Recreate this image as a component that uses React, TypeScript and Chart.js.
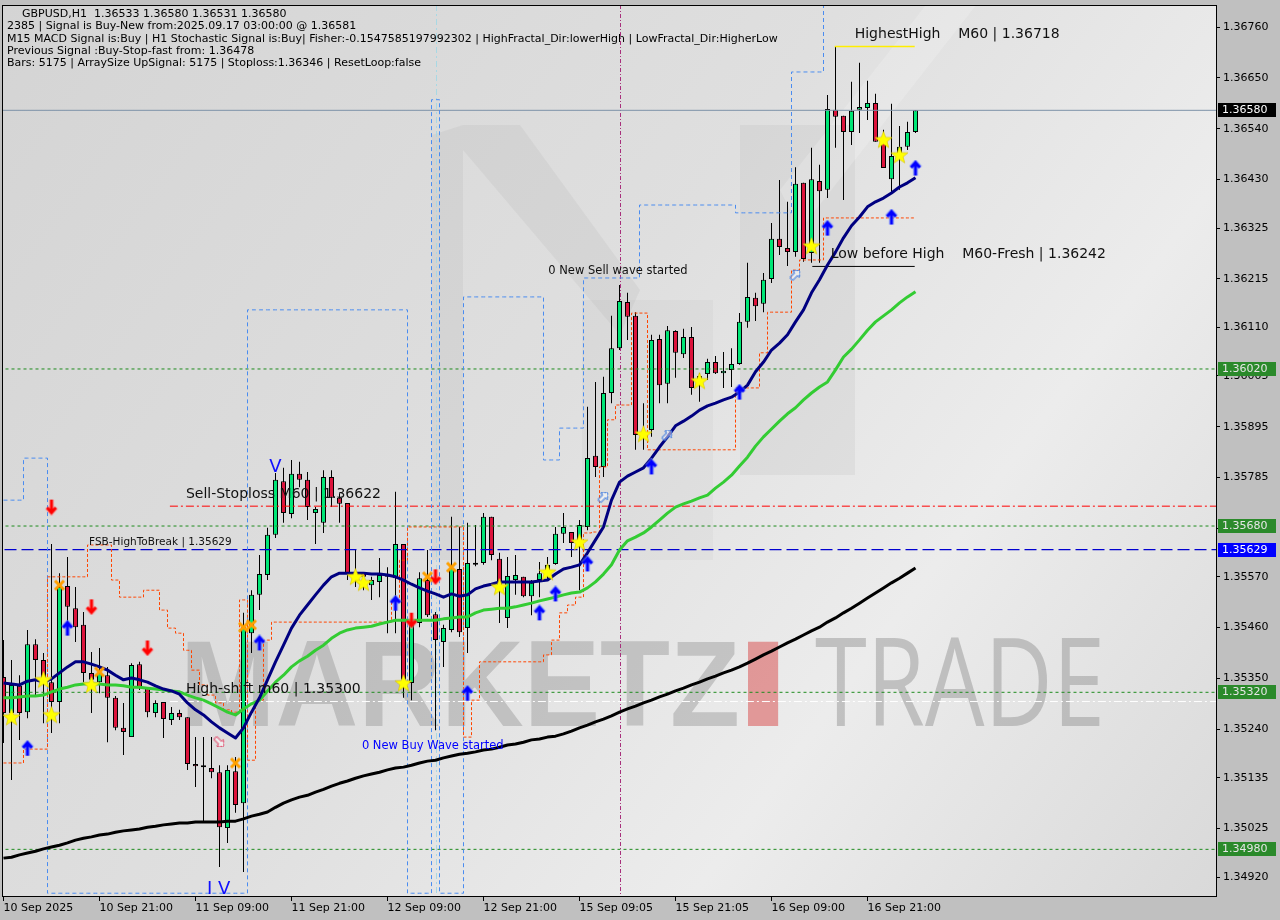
import React, { useEffect, useRef } from 'react';
import { Chart, registerables } from 'chart.js';

Chart.register(...registerables);

const FONT = '"DejaVu Sans", "Noto Sans", sans-serif';

// ---------------- DATA ----------------
const candleOpen = [
  1.35353, 1.35275, 1.35334, 1.35277, 1.35424, 1.3539, 1.35342, 1.35299, 1.3555, 1.35502,
  1.35466, 1.35362, 1.35342, 1.35357, 1.35308, 1.35243, 1.35223, 1.35381, 1.35329, 1.35275,
  1.35299, 1.3526, 1.35275, 1.35266, 1.35165, 1.35162, 1.35156, 1.35147, 1.35026, 1.35149,
  1.3508, 1.35448, 1.35531, 1.35574, 1.35661, 1.35777, 1.35706, 1.35793, 1.3578, 1.35708,
  1.35687, 1.35786, 1.35741, 1.3573, 1.3558, 1.3558, 1.35552, 1.35559, 1.3557, 1.35567,
  1.35641, 1.3534, 1.3547, 1.35563, 1.35489, 1.35429, 1.35455, 1.35587, 1.35459, 1.356,
  1.356, 1.357, 1.35609, 1.35481, 1.35563, 1.3557, 1.35528, 1.35563, 1.35578, 1.35598,
  1.35663, 1.35667, 1.35635, 1.35678, 1.35832, 1.35808, 1.35968, 1.36065, 1.36165, 1.36135,
  1.35881, 1.35888, 1.36085, 1.35988, 1.36102, 1.36052, 1.36089, 1.35992, 1.36009, 1.36035,
  1.36011, 1.36018, 1.36031, 1.36122, 1.36174, 1.36161, 1.36215, 1.36302, 1.36282, 1.36273,
  1.36423, 1.36271, 1.36427, 1.36408, 1.36581, 1.36568, 1.36533, 1.36581, 1.36585, 1.36596,
  1.36512, 1.36431, 1.36483, 1.36501, 1.36533,
];
const candleHigh = [
  1.35433, 1.3539, 1.35357, 1.35455, 1.35435, 1.35405, 1.35641, 1.35578, 1.35613, 1.35548,
  1.35494, 1.35407, 1.35416, 1.35375, 1.35312, 1.35297, 1.35383, 1.35386, 1.35329, 1.35303,
  1.35299, 1.35288, 1.35282, 1.35266, 1.35223, 1.35223, 1.35223, 1.35162, 1.35162, 1.3518,
  1.35492, 1.35541, 1.35617, 1.35676, 1.35795, 1.35806, 1.35823, 1.35819, 1.35797, 1.35721,
  1.35801, 1.35801, 1.35751, 1.3573, 1.35628, 1.3558, 1.3557, 1.35611, 1.35591, 1.35754,
  1.35641, 1.35476, 1.3558, 1.35628, 1.35494, 1.35466, 1.357, 1.35678, 1.35687, 1.35682,
  1.35708, 1.357, 1.35622, 1.35613, 1.35617, 1.3557, 1.35563, 1.35602, 1.35613, 1.35678,
  1.35708, 1.35667, 1.35693, 1.35938, 1.35992, 1.36003, 1.36135, 1.36202, 1.36185, 1.36143,
  1.35946, 1.36094, 1.36094, 1.36113, 1.36104, 1.36107, 1.36111, 1.36011, 1.36042, 1.36048,
  1.36057, 1.36065, 1.36141, 1.3625, 1.36185, 1.36228, 1.36336, 1.36429, 1.36382, 1.36457,
  1.36423, 1.36499, 1.36462, 1.36613, 1.36718, 1.36568, 1.36642, 1.36683, 1.36644, 1.36616,
  1.36538, 1.36594, 1.36546, 1.36555, 1.3658,
];
const candleLow = [
  1.3521, 1.3513, 1.35217, 1.35264, 1.3531, 1.35253, 1.35232, 1.35253, 1.35472, 1.35429,
  1.35342, 1.35275, 1.35318, 1.35212, 1.35238, 1.35184, 1.35223, 1.35325, 1.35266, 1.35266,
  1.35221, 1.35249, 1.3526, 1.35152, 1.35115, 1.35037, 1.35134, 1.34942, 1.34994, 1.35059,
  1.34931, 1.35405, 1.35498, 1.35563, 1.35654, 1.35687, 1.35697, 1.35764, 1.35693, 1.35641,
  1.35665, 1.35721, 1.35687, 1.35563, 1.35548, 1.35541, 1.3552, 1.35526, 1.35448, 1.35448,
  1.35308, 1.35303, 1.35461, 1.35483, 1.35238, 1.35375, 1.3545, 1.3544, 1.35405, 1.35593,
  1.35596, 1.35606, 1.3547, 1.35459, 1.35531, 1.35526, 1.35487, 1.35526, 1.35563, 1.35596,
  1.35643, 1.35613, 1.35541, 1.35671, 1.35786, 1.35786, 1.35946, 1.36061, 1.36083, 1.35845,
  1.35845, 1.35873, 1.35946, 1.35946, 1.36001, 1.36044, 1.35964, 1.35949, 1.35996, 1.36009,
  1.35979, 1.35981, 1.36029, 1.36109, 1.36124, 1.36143, 1.36206, 1.36267, 1.36243, 1.36263,
  1.36252, 1.3625, 1.3625, 1.3639, 1.36499, 1.36386, 1.36505, 1.36531, 1.36559, 1.36512,
  1.36455, 1.36401, 1.36408, 1.36494, 1.36531,
];
const candleClose = [
  1.35275, 1.35336, 1.35275, 1.35424, 1.3539, 1.3534, 1.35299, 1.35548, 1.35505, 1.35461,
  1.35362, 1.35347, 1.35362, 1.35308, 1.35243, 1.35234, 1.35379, 1.35329, 1.35277, 1.35297,
  1.35262, 1.35275, 1.35266, 1.35165, 1.3516, 1.35158, 1.35147, 1.35028, 1.35152, 1.35076,
  1.35461, 1.35531, 1.35576, 1.35661, 1.3578, 1.35708, 1.35793, 1.3578, 1.35721, 1.35717,
  1.35786, 1.35741, 1.35728, 1.35578, 1.35574, 1.3557, 1.35563, 1.35574, 1.35576, 1.35641,
  1.35347, 1.35466, 1.35567, 1.35487, 1.35433, 1.35459, 1.35589, 1.3545, 1.356, 1.35596,
  1.357, 1.35617, 1.35548, 1.35572, 1.35574, 1.35528, 1.35557, 1.35578, 1.35596, 1.35663,
  1.35678, 1.35643, 1.35682, 1.35827, 1.35808, 1.35968, 1.36065, 1.36167, 1.36133, 1.35877,
  1.35875, 1.36083, 1.35985, 1.36104, 1.36055, 1.36089, 1.35979, 1.36005, 1.36035, 1.36011,
  1.36016, 1.36031, 1.36122, 1.36176, 1.36156, 1.36213, 1.36302, 1.36284, 1.36273, 1.36421,
  1.36258, 1.36431, 1.36405, 1.36583, 1.36566, 1.36533, 1.36579, 1.36587, 1.36596, 1.36512,
  1.36455, 1.36481, 1.36501, 1.36533, 1.3658,
];

const maFast = [
  1.3534, 1.35338, 1.35336, 1.35344, 1.35347, 1.35342, 1.35349, 1.35362, 1.35375, 1.35386,
  1.35386, 1.35381, 1.35375, 1.35368, 1.35357, 1.35347, 1.35351, 1.35347, 1.35342, 1.35334,
  1.35327, 1.35323, 1.35316, 1.35297, 1.35282, 1.35271, 1.35256, 1.35243, 1.35232, 1.35221,
  1.35243, 1.35277, 1.35308, 1.35347, 1.35386, 1.35422, 1.35459, 1.35487, 1.35509, 1.35531,
  1.35552, 1.3557, 1.35578, 1.35578, 1.35578, 1.35578, 1.35576, 1.35576, 1.35574, 1.3557,
  1.35563, 1.35554, 1.35546, 1.35539, 1.35533, 1.35526, 1.35533, 1.35528, 1.35531, 1.35544,
  1.3555, 1.35554, 1.35559, 1.35559, 1.35559, 1.35559, 1.35559, 1.35561, 1.35563, 1.35576,
  1.35587, 1.35591, 1.35596, 1.35622, 1.3565, 1.35678, 1.35736, 1.35775, 1.35788, 1.35797,
  1.35806, 1.35827, 1.35851, 1.35873, 1.35897, 1.35907, 1.35918, 1.35931, 1.3594, 1.35946,
  1.35953, 1.35959, 1.3597, 1.35985, 1.36014, 1.36035, 1.36061, 1.36076, 1.36094, 1.36122,
  1.36148, 1.36185, 1.36213, 1.36245, 1.36273, 1.36304, 1.3633, 1.36349, 1.36371, 1.36382,
  1.3639, 1.36401, 1.36414, 1.36423, 1.36434,
];
const maMid = [
  1.35308, 1.35308, 1.3531, 1.35312, 1.35312, 1.35314, 1.35321, 1.35327, 1.35331, 1.35336,
  1.35338, 1.35338, 1.35338, 1.35336, 1.35336, 1.35334, 1.35331, 1.35331, 1.35329, 1.35327,
  1.35325, 1.35323, 1.35321, 1.35314, 1.35308, 1.35303, 1.35295, 1.35286, 1.35277, 1.35271,
  1.35284, 1.35295, 1.35303, 1.35323, 1.35342, 1.35357, 1.35375, 1.35388, 1.35398, 1.35411,
  1.35422, 1.35437, 1.35448, 1.35455, 1.35459, 1.35461, 1.35463, 1.35468, 1.35472, 1.35476,
  1.35476, 1.35476, 1.35476, 1.35476, 1.35476, 1.35479, 1.35481, 1.35483, 1.35483, 1.35492,
  1.35498, 1.355, 1.35502, 1.35502, 1.35505, 1.35509, 1.35513, 1.35518, 1.35522, 1.35526,
  1.35531, 1.35535, 1.35537, 1.35546, 1.35559, 1.35576, 1.35596, 1.35628, 1.35648, 1.35656,
  1.35665, 1.35678, 1.35693, 1.35708, 1.35721, 1.35728, 1.35734, 1.35741, 1.35747, 1.35762,
  1.35775, 1.3579, 1.3581, 1.35829, 1.35853, 1.35873, 1.3589, 1.35907, 1.35923, 1.35936,
  1.35953, 1.35968, 1.35981, 1.35992, 1.36018, 1.36046, 1.36063, 1.36083, 1.36104, 1.36122,
  1.36135, 1.36148, 1.36163, 1.36176, 1.36187,
];
const maSlow = [
  1.34961, 1.34963, 1.34968, 1.34972, 1.34976, 1.34981, 1.34985, 1.34989, 1.34994, 1.35,
  1.35004, 1.35007, 1.35011, 1.35013, 1.35017, 1.3502, 1.35022, 1.35024, 1.35028, 1.3503,
  1.35033, 1.35035, 1.35037, 1.35037, 1.35039, 1.35039, 1.35039, 1.35039, 1.35041, 1.35041,
  1.35046, 1.35052, 1.35056, 1.35061, 1.35071, 1.3508, 1.35087, 1.35093, 1.35097, 1.35104,
  1.3511, 1.35117, 1.35123, 1.35128, 1.35134, 1.35139, 1.35143, 1.35147, 1.35152, 1.35156,
  1.35158, 1.35162, 1.35167, 1.35171, 1.35173, 1.35178, 1.35182, 1.35186, 1.35188, 1.35191,
  1.35195, 1.35197, 1.35201, 1.35206, 1.35208, 1.35212, 1.35217, 1.35219, 1.35223, 1.35225,
  1.3523, 1.35236, 1.35243, 1.35249, 1.35256, 1.35262, 1.35269, 1.35277, 1.35284, 1.3529,
  1.35297, 1.35303, 1.3531, 1.35316, 1.35323, 1.35329, 1.35336, 1.35342, 1.35349, 1.35355,
  1.35362, 1.35368, 1.35375, 1.35383, 1.35392, 1.35401, 1.35409, 1.35418, 1.35427, 1.35435,
  1.35444, 1.35453, 1.35461, 1.35472, 1.35481, 1.35492, 1.35502, 1.35513, 1.35524, 1.35535,
  1.35546, 1.35557, 1.35567, 1.35578, 1.35589,
];
const trailStop = [
  1.35167, 1.35167, 1.35167, 1.35197, 1.35197, 1.35197, 1.3557, 1.3557, 1.3557, 1.3557,
  1.3557, 1.35639, 1.35639, 1.35639, 1.35563, 1.35526, 1.35526, 1.35526, 1.35541, 1.35541,
  1.35498, 1.35459, 1.35448, 1.35411, 1.35368, 1.35336, 1.35314, 1.35297, 1.35282, 1.35277,
  1.3552, 1.35173, 1.35303, 1.35433, 1.35472, 1.35472, 1.35472, 1.35472, 1.35472, 1.35472,
  1.35472, 1.35472, 1.35472, 1.35472, 1.35472, 1.35472, 1.35472, 1.35472, 1.35472, 1.3552,
  1.35606, 1.35678, 1.35678, 1.35678, 1.35678, 1.35678, 1.35678, 1.35678, 1.35223, 1.35303,
  1.35386, 1.35386, 1.35386, 1.35386, 1.35386, 1.35386, 1.35386, 1.35386, 1.35401, 1.35433,
  1.35492, 1.35509, 1.35526, 1.35665, 1.35667, 1.35808, 1.3591, 1.35942, 1.35942, 1.36141,
  1.36141, 1.35845, 1.35845, 1.35845, 1.35845, 1.35845, 1.35845, 1.35845, 1.35845, 1.35845,
  1.35845, 1.35845, 1.35979, 1.35979, 1.35979, 1.36055, 1.36143, 1.36143, 1.36143, 1.36234,
  1.36256, 1.36256, 1.36256, 1.36347, 1.36347, 1.36347, 1.36347, 1.36347, 1.36347, 1.36347,
  1.36347, 1.36347, 1.36347, 1.36347, 1.36347,
];
const upperBand = [
  1.35736, 1.35736, 1.35736, 1.35827, 1.35827, 1.35827, 1.34885, 1.34885, 1.34885, 1.34885,
  1.34885, 1.34885, 1.34885, 1.34885, 1.34885, 1.34885, 1.34885, 1.34885, 1.34885, 1.34885,
  1.34885, 1.34885, 1.34885, 1.34885, 1.34885, 1.34885, 1.34885, 1.34885, 1.34885, 1.34885,
  1.34885, 1.36148, 1.36148, 1.36148, 1.36148, 1.36148, 1.36148, 1.36148, 1.36148, 1.36148,
  1.36148, 1.36148, 1.36148, 1.36148, 1.36148, 1.36148, 1.36148, 1.36148, 1.36148, 1.36148,
  1.36148, 1.34885, 1.34885, 1.34885, 1.36603, 1.34885, 1.34885, 1.34885, 1.36176, 1.36176,
  1.36176, 1.36176, 1.36176, 1.36176, 1.36176, 1.36176, 1.36176, 1.36176, 1.35823, 1.35823,
  1.35892, 1.35892, 1.35892, 1.36217, 1.36217, 1.36217, 1.36217, 1.36217, 1.36217, 1.36217,
  1.36375, 1.36375, 1.36375, 1.36375, 1.36375, 1.36375, 1.36375, 1.36375, 1.36375, 1.36375,
  1.36375, 1.36375, 1.36358, 1.36358, 1.36358, 1.36358, 1.36358, 1.36358, 1.36358, 1.36663,
  1.36663, 1.36663, 1.36663, 1.369, 1.369, 1.369, 1.369, 1.369, 1.369, 1.369,
  1.369, 1.369, 1.369, 1.369, 1.369,
];

const xTickIndex = [0, 12, 24, 36, 48, 60, 72, 84, 96, 108];
const xTickLabels = [
  '10 Sep 2025', '10 Sep 21:00', '11 Sep 09:00', '11 Sep 21:00', '12 Sep 09:00',
  '12 Sep 21:00', '15 Sep 09:05', '15 Sep 21:05', '16 Sep 09:00', '16 Sep 21:00',
];
const yTickValues = [
  1.3676, 1.3665, 1.3654, 1.3643, 1.36325, 1.36215, 1.3611, 1.36005, 1.35895, 1.35785,
  1.35675, 1.3557, 1.3546, 1.3535, 1.3524, 1.35135, 1.35025, 1.3492,
];
const yMin = 1.34879;
const yMax = 1.36808;

const currentPrice = 1.3658;
const greenLevels = [1.3602, 1.3568, 1.3532, 1.3498];
const fsbHighToBreak = 1.35629;
const sellStoplossLevel = 1.35723;
const highShiftLevel = 1.353;
const levelStartIdx = 20.8;
const highestHigh = 1.36718;
const highestHighSpan = [103.9, 113.9];
const lowBeforeHigh = 1.36242;
const lowBeforeHighSpan = [101.1, 113.9];

const starIdx = [1, 5, 6, 11, 44, 45, 50, 62, 68, 72, 80, 87, 101, 110, 112];
const starPrice = [1.35266, 1.35347, 1.35271, 1.35336, 1.3557, 1.35557, 1.3534, 1.35548, 1.3558, 1.35645, 1.35879, 1.35994, 1.36286, 1.36516, 1.36483];
const crossIdx = [7, 12, 29, 30, 31, 53, 56];
const crossPrice = [1.35552, 1.35364, 1.35167, 1.35461, 1.35466, 1.3557, 1.35591];
const buyArrowIdx = [3, 8, 32, 49, 58, 67, 69, 73, 81, 92, 103, 111, 114];
const buyArrowPrice = [1.35199, 1.35459, 1.35427, 1.35513, 1.35318, 1.35492, 1.35533, 1.35598, 1.35808, 1.3597, 1.36325, 1.36349, 1.36455];
const sellArrowIdx = [6, 11, 18, 51, 54];
const sellArrowPrice = [1.35721, 1.35505, 1.35416, 1.35476, 1.3557];
const hollowUpIdx = [75, 83, 99];
const hollowUpPrice = [1.35743, 1.35877, 1.36224];
const hollowDownIdx = [27];
const hollowDownPrice = [1.35212];

const separatorIdx = [77];
const waveLineIdx = [54];

const noteText = [
  'HighestHigh    M60 | 1.36718',
  'Low before High    M60-Fresh | 1.36242',
  '0 New Sell wave started',
  'Sell-Stoploss M60 | 1.36622',
  'FSB-HighToBreak | 1.35629',
  'High-shift m60 | 1.35300',
  '0 New Buy Wave started',
];
const noteIdx = [106.4, 103.4, 68.1, 22.8, 10.7, 22.8, 44.8];
const notePrice = [1.36745, 1.36269, 1.36232, 1.35749, 1.35645, 1.35327, 1.35204];

const glyphText = ['V', 'I V'];
const glyphIdx = [34, 26.9];
const glyphPrice = [1.35806, 1.34894];

const infoLines = [
  'GBPUSD,H1  1.36533 1.36580 1.36531 1.36580',
  '2385 | Signal is Buy-New from:2025.09.17 03:00:00 @ 1.36581',
  'M15 MACD Signal is:Buy | H1 Stochastic Signal is:Buy| Fisher:-0.1547585197992302 | HighFractal_Dir:lowerHigh | LowFractal_Dir:HigherLow',
  'Previous Signal :Buy-Stop-fast from: 1.36478',
  'Bars: 5175 | ArraySize UpSignal: 5175 | Stoploss:1.36346 | ResetLoop:false',
];

const axisTagPrices = [1.3658, 1.3602, 1.3568, 1.35629, 1.3532, 1.3498];

// ---------------- ICONS ----------------
function makeCanvas(w: number, h: number, draw: (g: CanvasRenderingContext2D) => void) {
  const c = document.createElement('canvas');
  c.width = w;
  c.height = h;
  const g = c.getContext('2d')!;
  draw(g);
  return c;
}
function starIcon() {
  return makeCanvas(19, 19, (g) => {
    g.beginPath();
    for (let k = 0; k < 10; k++) {
      const r = k % 2 === 0 ? 9 : 3.8;
      const a = -Math.PI / 2 + (k * Math.PI) / 5;
      const px = 9.5 + r * Math.cos(a);
      const py = 10 + r * Math.sin(a);
      if (k === 0) g.moveTo(px, py);
      else g.lineTo(px, py);
    }
    g.closePath();
    g.fillStyle = '#ffff00';
    g.fill();
    g.strokeStyle = '#d6c000';
    g.lineWidth = 0.6;
    g.stroke();
  });
}
function crossIcon() {
  return makeCanvas(13, 13, (g) => {
    g.strokeStyle = '#ffa000';
    g.lineWidth = 3;
    g.beginPath();
    g.moveTo(2, 2);
    g.lineTo(11, 11);
    g.moveTo(11, 2);
    g.lineTo(2, 11);
    g.stroke();
  });
}
function arrowIcon(color: string, glow: string, down: boolean) {
  return makeCanvas(14, 17, (g) => {
    if (down) {
      g.translate(0, 17);
      g.scale(1, -1);
    }
    const path = () => {
      g.beginPath();
      g.moveTo(2.5, 8);
      g.lineTo(7, 3);
      g.lineTo(11.5, 8);
      g.moveTo(7, 3.5);
      g.lineTo(7, 16);
    };
    g.strokeStyle = glow;
    g.lineWidth = 5;
    path();
    g.stroke();
    g.strokeStyle = color;
    g.lineWidth = 3;
    path();
    g.stroke();
  });
}
function hollowArrowIcon(color: string) {
  return makeCanvas(12, 14, (g) => {
    g.beginPath();
    g.moveTo(6, 1);
    g.lineTo(11, 6);
    g.lineTo(8, 6);
    g.lineTo(8, 13);
    g.lineTo(4, 13);
    g.lineTo(4, 6);
    g.lineTo(1, 6);
    g.closePath();
    g.fillStyle = 'rgba(255,255,255,0.5)';
    g.fill();
    g.strokeStyle = color;
    g.lineWidth = 1;
    g.stroke();
  });
}

// ---------------- PLUGINS ----------------
const backgroundPlugin = {
  id: 'mtBackground',
  beforeDraw(chart: any) {
    const { ctx, chartArea: a, width, height } = chart;
    ctx.save();
    ctx.fillStyle = '#c0c0c0';
    ctx.fillRect(0, 0, width, height);
    const g = ctx.createLinearGradient(a.left, a.top, a.right, a.bottom);
    g.addColorStop(0, '#d4d4d4');
    g.addColorStop(0.45, '#dfdfdf');
    g.addColorStop(0.72, '#ececec');
    g.addColorStop(1, '#d9d9d9');
    ctx.fillStyle = g;
    ctx.fillRect(a.left, a.top, a.right - a.left, a.bottom - a.top);

    ctx.beginPath();
    ctx.rect(a.left, a.top, a.right - a.left, a.bottom - a.top);
    ctx.clip();
    // faint logo shapes
    ctx.fillStyle = 'rgba(140,140,140,0.10)';
    ctx.beginPath();
    ctx.moveTo(432, 135); ctx.lineTo(463, 125); ctx.lineTo(463, 560); ctx.lineTo(432, 560); ctx.closePath();
    ctx.fill();
    ctx.beginPath();
    ctx.moveTo(463, 125); ctx.lineTo(520, 125); ctx.lineTo(640, 290); ctx.lineTo(620, 335); ctx.lineTo(463, 150); ctx.closePath();
    ctx.fill();
    ctx.beginPath();
    ctx.moveTo(740, 125); ctx.lineTo(855, 125); ctx.lineTo(855, 475); ctx.lineTo(740, 475); ctx.closePath();
    ctx.fill();
    ctx.fillStyle = 'rgba(140,140,140,0.06)';
    ctx.beginPath();
    ctx.moveTo(582, 300); ctx.lineTo(713, 300); ctx.lineTo(713, 560); ctx.lineTo(582, 560); ctx.closePath();
    ctx.fill();
    ctx.fillStyle = 'rgba(255,255,255,0.18)';
    ctx.beginPath();
    ctx.moveTo(780, 190); ctx.lineTo(930, 0); ctx.lineTo(980, 0); ctx.lineTo(800, 230); ctx.closePath();
    ctx.fill();

    // watermark text
    ctx.textBaseline = 'alphabetic';
    ctx.textAlign = 'left';
    ctx.font = 'bold 123px "Liberation Sans", Arial, sans-serif';
    let w = ctx.measureText('MARKETZ').width;
    ctx.save();
    ctx.translate(180, 726);
    ctx.scale(560 / w, 1);
    ctx.fillStyle = 'rgba(150,150,150,0.45)';
    ctx.fillText('MARKETZ', 0, 0);
    ctx.restore();
    ctx.save();
    ctx.translate(763, 726);
    ctx.scale(1.7, 1);
    ctx.textAlign = 'center';
    ctx.fillStyle = 'rgba(215,70,70,0.5)';
    ctx.fillText('I', 0, 0);
    ctx.restore();
    ctx.font = '123px "Open Sans", "Liberation Sans", sans-serif';
    w = ctx.measureText('TRADE').width;
    ctx.save();
    ctx.translate(815, 726);
    ctx.scale(290 / w, 1);
    ctx.fillStyle = 'rgba(150,150,150,0.5)';
    ctx.fillText('TRADE', 0, 0);
    ctx.restore();
    ctx.restore();
  },
  beforeDatasetsDraw(chart: any) {
    const { ctx, chartArea: a, scales } = chart;
    ctx.save();
    ctx.beginPath();
    ctx.rect(a.left, a.top, a.right - a.left, a.bottom - a.top);
    ctx.clip();
    ctx.lineWidth = 1;
    waveLineIdx.forEach((i) => {
      const x = Math.round(scales.x.getPixelForValue(i)) + 0.5;
      ctx.strokeStyle = '#a8d8e4';
      ctx.setLineDash([6, 3, 2, 3]);
      ctx.beginPath();
      ctx.moveTo(x, a.top);
      ctx.lineTo(x, a.bottom);
      ctx.stroke();
    });
    separatorIdx.forEach((i) => {
      const x = Math.round(scales.x.getPixelForValue(i)) + 0.5;
      ctx.strokeStyle = '#a8307c';
      ctx.setLineDash([4, 2, 1, 2]);
      ctx.beginPath();
      ctx.moveTo(x, a.top);
      ctx.lineTo(x, a.bottom);
      ctx.stroke();
    });
    ctx.restore();
  },
  afterDatasetsDraw(chart: any) {
    const { ctx, chartArea: a, scales } = chart;
    ctx.save();
    ctx.beginPath();
    ctx.rect(a.left, a.top, a.right - a.left, a.bottom - a.top);
    ctx.clip();
    const noteFont = ['14px', '14px', '11.5px', '14px', '10.5px', '14px', '11.5px'];
    const noteColor = ['#111', '#111', '#111', '#111', '#111', '#111', '#0000ff'];
    ctx.textAlign = 'left';
    ctx.textBaseline = 'middle';
    noteText.forEach((t, k) => {
      ctx.font = noteFont[k] + ' ' + FONT;
      ctx.fillStyle = noteColor[k];
      ctx.fillText(t, scales.x.getPixelForValue(noteIdx[k]), scales.y.getPixelForValue(notePrice[k]));
    });
    ctx.textAlign = 'center';
    ctx.font = '18px ' + FONT;
    ctx.fillStyle = '#1010ff';
    glyphText.forEach((t, k) => {
      ctx.fillText(t, scales.x.getPixelForValue(glyphIdx[k]), scales.y.getPixelForValue(glyphPrice[k]));
    });
    ctx.restore();
    // frame
    ctx.save();
    ctx.strokeStyle = '#000';
    ctx.lineWidth = 1;
    ctx.strokeRect(a.left + 0.5, a.top + 0.5, a.right - a.left, a.bottom - a.top);
    ctx.restore();
  },
  afterDraw(chart: any) {
    const { ctx, chartArea: a, scales } = chart;
    ctx.save();
    const tagBg = ['#000000', '#2b8a2b', '#2b8a2b', '#0000ff', '#2b8a2b', '#2b8a2b'];
    const tagFg = ['#ffffff', '#e6e6e6', '#e6e6e6', '#ffffff', '#e6e6e6', '#e6e6e6'];
    ctx.font = '11px ' + FONT;
    ctx.textAlign = 'left';
    ctx.textBaseline = 'middle';
    axisTagPrices.forEach((p, k) => {
      const y = Math.round(scales.y.getPixelForValue(p));
      ctx.fillStyle = tagBg[k];
      ctx.fillRect(a.right + 2, y - 7, 58, 14);
      ctx.fillStyle = tagFg[k];
      ctx.fillText(p.toFixed(5), a.right + 6, y + 0.5);
    });
    ctx.fillStyle = '#000';
    ctx.textBaseline = 'alphabetic';
    const lx = [22, 7, 7, 7, 7];
    const ly = [16.5, 29, 41.5, 54, 66];
    infoLines.forEach((t, k) => ctx.fillText(t, lx[k], ly[k]));
    ctx.restore();
  },
};

// ---------------- COMPONENT ----------------
export default function App() {
  const ref = useRef<HTMLCanvasElement>(null);

  useEffect(() => {
    document.body.style.margin = '0';
    const canvas = ref.current!;
    const star = starIcon();
    const cross = crossIcon();
    const upArrow = arrowIcon('#0000ff', 'rgba(120,150,255,0.6)', false);
    const downArrow = arrowIcon('#ff0000', 'rgba(255,150,150,0.6)', true);
    const hollowBlue = hollowArrowIcon('#3a78e0');
    const hollowPink = hollowArrowIcon('#e04a6a');

    const series = (arr: number[]) => arr.map((y, i) => ({ x: i, y }));
    const pts = (idx: number[], price: number[]) => idx.map((x, k) => ({ x, y: price[k] }));
    const level = (p: number, from: number, to: number) => [{ x: from, y: p }, { x: to, y: p }];
    const lineBase = { type: 'line', pointRadius: 0, fill: false, tension: 0, clip: 0 };
    const marker = (data: any[], style: any, rot = 0) => ({
      type: 'line', data, showLine: false, pointStyle: style, pointRadius: 6, pointRotation: rot, order: 0, clip: 0,
    });

    const datasets: any[] = [
      marker(pts(starIdx, starPrice), star),
      marker(pts(crossIdx, crossPrice), cross),
      marker(pts(buyArrowIdx, buyArrowPrice), upArrow),
      marker(pts(sellArrowIdx, sellArrowPrice), downArrow),
      marker(pts(hollowUpIdx, hollowUpPrice), hollowBlue, 45),
      marker(pts(hollowDownIdx, hollowDownPrice), hollowPink, 135),
      { ...lineBase, data: series(maFast), borderColor: '#000080', borderWidth: 3, borderJoinStyle: 'round', order: 1 },
      { ...lineBase, data: series(maMid), borderColor: '#33cc33', borderWidth: 3, borderJoinStyle: 'round', order: 2 },
      { ...lineBase, data: series(maSlow), borderColor: '#000000', borderWidth: 3, borderJoinStyle: 'round', order: 3 },
      { ...lineBase, data: series(trailStop), borderColor: '#ff4500', borderWidth: 1, borderDash: [3, 2], stepped: 'middle', order: 4 },
      { ...lineBase, data: series(upperBand), borderColor: '#4a8cf0', borderWidth: 1, borderDash: [4, 3], stepped: 'middle', order: 5 },
      { ...lineBase, data: level(currentPrice, -2, 160), borderColor: '#7d92a8', borderWidth: 1, order: 6 },
      ...greenLevels.map((p) => ({ ...lineBase, data: level(p, -2, 160), borderColor: '#1e8c1e', borderWidth: 1, borderDash: [3, 3], order: 6 })),
      { ...lineBase, data: level(fsbHighToBreak, -2, 160), borderColor: '#0000d0', borderWidth: 1.2, borderDash: [12, 5], order: 6 },
      { ...lineBase, data: level(sellStoplossLevel, levelStartIdx, 160), borderColor: '#ff0000', borderWidth: 1, borderDash: [8, 3, 2, 3], order: 6 },
      { ...lineBase, data: level(highShiftLevel, levelStartIdx, 160), borderColor: '#ffffff', borderWidth: 1, borderDash: [8, 3, 2, 3], order: 6 },
      { ...lineBase, data: level(highestHigh, highestHighSpan[0], highestHighSpan[1]), borderColor: '#ffee00', borderWidth: 1.5, order: 6 },
      { ...lineBase, data: level(lowBeforeHigh, lowBeforeHighSpan[0], lowBeforeHighSpan[1]), borderColor: '#000000', borderWidth: 1, order: 6 },
      {
        type: 'bar',
        data: candleOpen.map((o, i) => ({ x: i, y: [o, candleClose[i]] })),
        backgroundColor: candleOpen.map((o, i) => (candleClose[i] >= o ? '#00e676' : '#dc143c')),
        borderColor: '#000000',
        borderWidth: 1,
        borderSkipped: false,
        barThickness: 5,
        minBarLength: 2,
        inflateAmount: 0,
        grouped: false,
        order: 7,
        clip: 0,
      },
      {
        type: 'bar',
        data: candleLow.map((l, i) => ({ x: i, y: [l, candleHigh[i]] })),
        backgroundColor: '#000000',
        borderWidth: 0,
        barThickness: 1,
        inflateAmount: 0,
        grouped: false,
        order: 8,
        clip: 0,
      },
    ];

    const chart = new Chart(canvas, {
      type: 'line',
      data: { datasets },
      options: {
        responsive: false,
        animation: false,
        devicePixelRatio: 1,
        events: [],
        layout: { autoPadding: false, padding: { left: 2, top: 5, right: 0, bottom: 0 } },
        plugins: { legend: { display: false }, tooltip: { enabled: false } },
        scales: {
          x: {
            type: 'linear',
            min: -0.1875,
            max: 151.5625,
            offset: false,
            afterBuildTicks: (s: any) => {
              s.ticks = xTickIndex.map((v) => ({ value: v }));
            },
            afterFit: (s: any) => {
              s.height = 24;
              s.paddingLeft = 0;
              s.paddingRight = 0;
            },
            grid: { drawOnChartArea: false, drawTicks: true, tickLength: 5, color: '#000', offset: false },
            border: { display: false },
            ticks: {
              autoSkip: false,
              maxRotation: 0,
              minRotation: 0,
              align: 'start',
              padding: 1,
              color: '#000',
              font: { family: 'DejaVu Sans', size: 11 },
              callback: (v: any) => {
                const k = xTickIndex.indexOf(Number(v));
                return k >= 0 ? xTickLabels[k] : '';
              },
            },
          },
          y: {
            type: 'linear',
            position: 'right',
            min: yMin,
            max: yMax,
            afterBuildTicks: (s: any) => {
              s.ticks = yTickValues.map((v) => ({ value: v }));
            },
            afterFit: (s: any) => {
              s.width = 64;
              s.paddingTop = 0;
              s.paddingBottom = 0;
            },
            grid: { drawOnChartArea: false, drawTicks: true, tickLength: 4, color: '#000' },
            border: { display: false },
            ticks: {
              autoSkip: false,
              padding: 3,
              color: '#000',
              font: { family: 'DejaVu Sans', size: 11 },
              callback: (v: any) => Number(v).toFixed(5),
            },
          },
        },
      } as any,
      plugins: [backgroundPlugin],
    } as any);

    return () => chart.destroy();
  }, []);

  return (
    <div style={{ position: 'fixed', left: 0, top: 0, width: 1280, height: 920, background: '#c0c0c0' }}>
      <canvas ref={ref} width={1280} height={920} style={{ display: 'block', width: 1280, height: 920 }} />
    </div>
  );
}
